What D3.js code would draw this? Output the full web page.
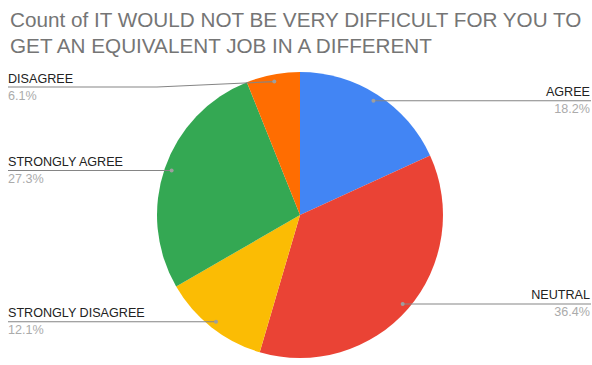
<!DOCTYPE html>
<html>
<head>
<meta charset="utf-8">
<script src="https://cdn.jsdelivr.net/npm/d3@7/dist/d3.min.js"></script>
<style>
  html, body { margin: 0; padding: 0; background: #fff; }
  svg { display: block; }
</style>
</head>
<body>
<svg id="chart" width="592" height="365"></svg>
<script>
// Responses, in pie order starting at 12 o'clock and going clockwise
const categories = ["AGREE", "NEUTRAL", "STRONGLY DISAGREE", "STRONGLY AGREE", "DISAGREE"];
const counts = [6, 12, 4, 9, 2];
const colors = ["#4285f4", "#ea4335", "#fbbc04", "#34a853", "#ff6d01"];
const titleLines = [
  "Count of IT WOULD NOT BE VERY DIFFICULT FOR YOU TO",
  "GET AN EQUIVALENT JOB IN A DIFFERENT"
];

const W = 592, H = 365;
const cx = 300, cy = 215, R = 143;
const svg = d3.select("#chart");
const font = "'Liberation Sans', Arial, sans-serif";

// Title
svg.append("g").selectAll("text")
  .data(titleLines)
  .join("text")
  .attr("x", 10)
  .attr("y", (d, i) => 27 + i * 26)
  .attr("font-family", font)
  .attr("font-size", 20.7)
  .attr("fill", "#757575")
  .text(d => d);

const total = d3.sum(counts);
const rows = categories.map((c, i) => ({ name: c, value: counts[i], color: colors[i] }));

const pie = d3.pie().value(d => d.value).sort(null);
const arcs = pie(rows);
const arc = d3.arc().innerRadius(0).outerRadius(R);
const dotArc = d3.arc().innerRadius(R * 0.95).outerRadius(R * 0.95);

const g = svg.append("g").attr("transform", `translate(${cx},${cy})`);
g.selectAll("path")
  .data(arcs)
  .join("path")
  .attr("d", arc)
  .attr("fill", d => d.data.color);

// Callout labels
const fmt = d3.format(".1%");
const leftX = 8, rightX = 590, minLineY = 87;
const labels = svg.append("g");

arcs.forEach(d => {
  const [px, py] = dotArc.centroid(d);
  const dx = cx + px, dy = cy + py;
  const mid = (d.startAngle + d.endAngle) / 2;
  const right = mid < Math.PI;
  const ly = Math.max(dy, minLineY);
  const endX = right ? rightX + 1 : leftX;
  const elbowX = right ? dx : (ly !== dy ? 157 : dx);

  const pts = [[dx, dy], [elbowX, ly], [endX, ly]];
  labels.append("path")
    .attr("d", d3.line()(pts))
    .attr("fill", "none")
    .attr("stroke", "#858585")
    .attr("stroke-width", 1.1);
  labels.append("circle")
    .attr("cx", dx).attr("cy", dy).attr("r", 2)
    .attr("fill", "#9e9e9e");

  const tx = right ? rightX : leftX;
  const anchor = right ? "end" : "start";
  labels.append("text")
    .attr("x", tx).attr("y", ly - 4.5)
    .attr("text-anchor", anchor)
    .attr("font-family", font)
    .attr("font-size", 12.6)
    .attr("fill", "#222")
    .text(d.data.name);
  labels.append("text")
    .attr("x", tx).attr("y", ly + 12.5)
    .attr("text-anchor", anchor)
    .attr("font-family", font)
    .attr("font-size", 12.6)
    .attr("fill", "#ababab")
    .text(fmt(d.data.value / total));
});
</script>
</body>
</html>
